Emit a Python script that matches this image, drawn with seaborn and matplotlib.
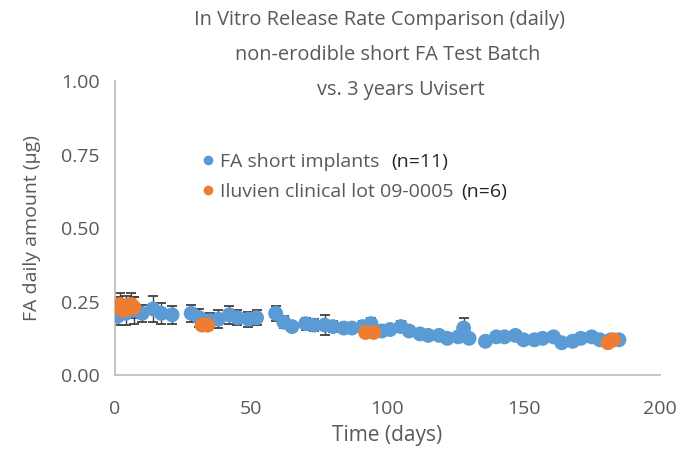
import numpy as np
import pandas as pd
import matplotlib
matplotlib.use("Agg")
import matplotlib.pyplot as plt
import seaborn as sns

# FA short implants (n=11)
fa_days = [1, 4, 7, 10, 14, 17, 21, 28, 31, 35, 38, 42, 45, 49, 52, 59, 62, 65,
           70, 73, 77, 80, 84, 87, 91, 94, 98, 101, 105, 108, 112, 115, 119, 122,
           126, 128, 130, 136, 140, 143, 147, 150, 154, 157, 161, 164, 168, 171,
           175, 178, 182, 185]
fa_vals = [0.20, 0.21, 0.22, 0.21, 0.225, 0.21, 0.205, 0.21, 0.195, 0.185, 0.19,
           0.205, 0.195, 0.19, 0.195, 0.21, 0.18, 0.165, 0.175, 0.17, 0.17, 0.165,
           0.16, 0.16, 0.165, 0.175, 0.15, 0.155, 0.165, 0.15, 0.14, 0.135, 0.135,
           0.125, 0.13, 0.16, 0.125, 0.115, 0.13, 0.13, 0.135, 0.12, 0.12, 0.125,
           0.13, 0.11, 0.115, 0.125, 0.13, 0.12, 0.12, 0.12]
fa_err = [0.03, 0.04, 0.045, 0.03, 0.045, 0.035, 0.03, 0.03, 0.03, 0.025, 0.03,
          0.03, 0.025, 0.025, 0.025, 0.025, 0.02, 0.015, 0.02, 0.02, 0.035, 0.02,
          0.015, 0.015, 0.02, 0.02, 0.015, 0.015, 0.02, 0.015, 0.012, 0.012, 0.012,
          0.01, 0.01, 0.035, 0.01, 0.008, 0.01, 0.008, 0.008, 0.008, 0.008, 0.008,
          0.008, 0.008, 0.008, 0.008, 0.008, 0.008, 0.008, 0.008]

# Iluvien clinical lot 09-0005 (n=6)
il_days = [1, 2, 3, 4, 5, 6, 7, 32, 34, 92, 95, 181, 183]
il_vals = [0.23, 0.24, 0.22, 0.235, 0.225, 0.24, 0.23, 0.17, 0.17, 0.145, 0.145, 0.11, 0.12]
il_err = [0.035, 0.04, 0.03, 0.035, 0.03, 0.04, 0.035, 0.015, 0.015, 0.01, 0.01, 0.008, 0.008]

labels = ["FA short implants", "Iluvien clinical lot 09-0005"]
n_labels = ["(n=11)", "(n=6)"]
colors = ["#5B9BD5", "#ED7D31"]

df = pd.concat([
    pd.DataFrame({"day": fa_days, "amount": fa_vals, "err": fa_err, "series": labels[0]}),
    pd.DataFrame({"day": il_days, "amount": il_vals, "err": il_err, "series": labels[1]}),
])

sns.set_style("white")
plt.rcParams["font.family"] = ["Open Sans", "DejaVu Sans"]
gray = "#595959"

fig = plt.figure(figsize=(6.88, 4.53), dpi=100)
ax = fig.add_axes([0.167, 0.172, 0.792, 0.649])

for lab, col in zip(labels, colors):
    d = df[df["series"] == lab]
    ax.errorbar(d["day"], d["amount"], yerr=d["err"], fmt="none",
                ecolor="#404040", elinewidth=1, capsize=3.5, capthick=1.3, zorder=1)

sns.scatterplot(data=df, x="day", y="amount", hue="series", palette=colors,
                s=115, edgecolor="none", linewidth=0, ax=ax, zorder=3, legend=False)

ax.set_xlim(0, 200)
ax.set_ylim(0, 1.0)
ax.set_xticks([0, 50, 100, 150, 200])
ax.set_yticks([0, 0.25, 0.5, 0.75, 1.0])
ax.set_yticklabels(["0.00", "0.25", "0.50", "0.75", "1.00"])
ax.tick_params(axis="both", length=0, labelsize=14, labelcolor=gray)
ax.tick_params(axis="x", pad=18)
ax.tick_params(axis="y", pad=11)
for s in ["top", "right"]:
    ax.spines[s].set_visible(False)
for s in ["left", "bottom"]:
    ax.spines[s].set_color("#BFBFBF")
    ax.spines[s].set_linewidth(1.3)

ax.set_xlabel("Time (days)", fontsize=15, color=gray, labelpad=5)
ax.set_ylabel("FA daily amount (µg)", fontsize=14, color=gray, labelpad=14)

handles = [plt.Line2D([], [], marker="o", linestyle="none", markersize=7,
                      markerfacecolor=c, markeredgecolor="none") for c in colors]
leg = ax.legend(handles, labels, loc="upper left", bbox_to_anchor=(0.12, 0.815),
                frameon=False, fontsize=14, handletextpad=0.15, labelspacing=0.6,
                handlelength=1.0)
for t in leg.get_texts():
    t.set_color(gray)

fig.canvas.draw()
renderer = fig.canvas.get_renderer()
inv = fig.transFigure.inverted()
for t, n, gap in zip(leg.get_texts(), n_labels, [12, 8]):
    bb = t.get_window_extent(renderer)
    x0, y0 = inv.transform((bb.x1 + gap, (bb.y0 + bb.y1) / 2))
    fig.text(x0, y0, n, fontsize=14, color="#262626", va="center", ha="left")

fig.text(380 / 688, 1 - 20 / 453, "In Vitro Release Rate Comparison (daily)",
         fontsize=14.4, color=gray, ha="center", va="center")
fig.text(388 / 688, 1 - 55 / 453, "non-erodible short FA Test Batch",
         fontsize=14.4, color=gray, ha="center", va="center")
fig.text(401 / 688, 1 - 90 / 453, "vs. 3 years Uvisert",
         fontsize=14.4, color=gray, ha="center", va="center")

fig.savefig("out.png", dpi=100)
